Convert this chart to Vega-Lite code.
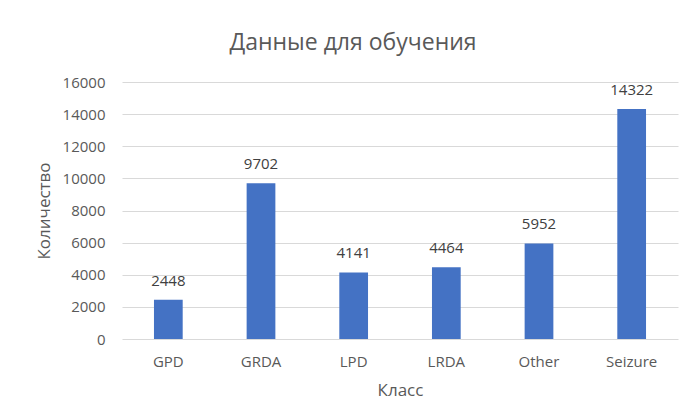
{
  "$schema": "https://vega.github.io/schema/vega-lite/v6.json",
  "width": 556,
  "height": 257,
  "autosize": {"type": "none"},
  "padding": {"left": 122, "top": 82, "right": 12, "bottom": 80},
  "background": "white",
  "title": {
    "text": "Данные для обучения",
    "font": "Open Sans",
    "fontSize": 23,
    "fontWeight": "normal",
    "color": "#595959",
    "anchor": "middle",
    "dx": -47,
    "offset": 20
  },
  "data": {
    "values": [
      {"Класс": "GPD", "Количество": 2448},
      {"Класс": "GRDA", "Количество": 9702},
      {"Класс": "LPD", "Количество": 4141},
      {"Класс": "LRDA", "Количество": 4464},
      {"Класс": "Other", "Количество": 5952},
      {"Класс": "Seizure", "Количество": 14322}
    ]
  },
  "encoding": {
    "x": {
      "field": "Класс",
      "type": "nominal",
      "sort": null,
      "scale": {"paddingInner": 0.69, "paddingOuter": 0.345},
      "axis": {
        "labelAngle": 0,
        "ticks": false,
        "domain": false,
        "labelPadding": 15,
        "titlePadding": 13,
        "labelFontSize": 15,
        "titleFontSize": 17,
        "titleFontWeight": "normal"
      }
    },
    "y": {
      "field": "Количество",
      "type": "quantitative",
      "scale": {"domain": [0, 16000]},
      "axis": {
        "values": [0, 2000, 4000, 6000, 8000, 10000, 12000, 14000, 16000],
        "format": "d",
        "ticks": false,
        "domain": false,
        "labelPadding": 17,
        "titlePadding": 9,
        "labelFontSize": 15,
        "titleFontSize": 17,
        "titleFontWeight": "normal",
        "gridColor": "#D9D9D9",
        "gridWidth": 1
      }
    }
  },
  "layer": [
    {"mark": {"type": "bar", "color": "#4472C4"}},
    {
      "mark": {"type": "text", "baseline": "bottom", "dy": -11, "fontSize": 15, "color": "#404040", "font": "Open Sans"},
      "encoding": {"text": {"field": "Количество", "type": "quantitative", "format": "d"}}
    }
  ],
  "config": {
    "view": {"stroke": null},
    "axis": {
      "labelFont": "Open Sans",
      "titleFont": "Open Sans",
      "labelColor": "#595959",
      "titleColor": "#595959"
    }
  }
}
